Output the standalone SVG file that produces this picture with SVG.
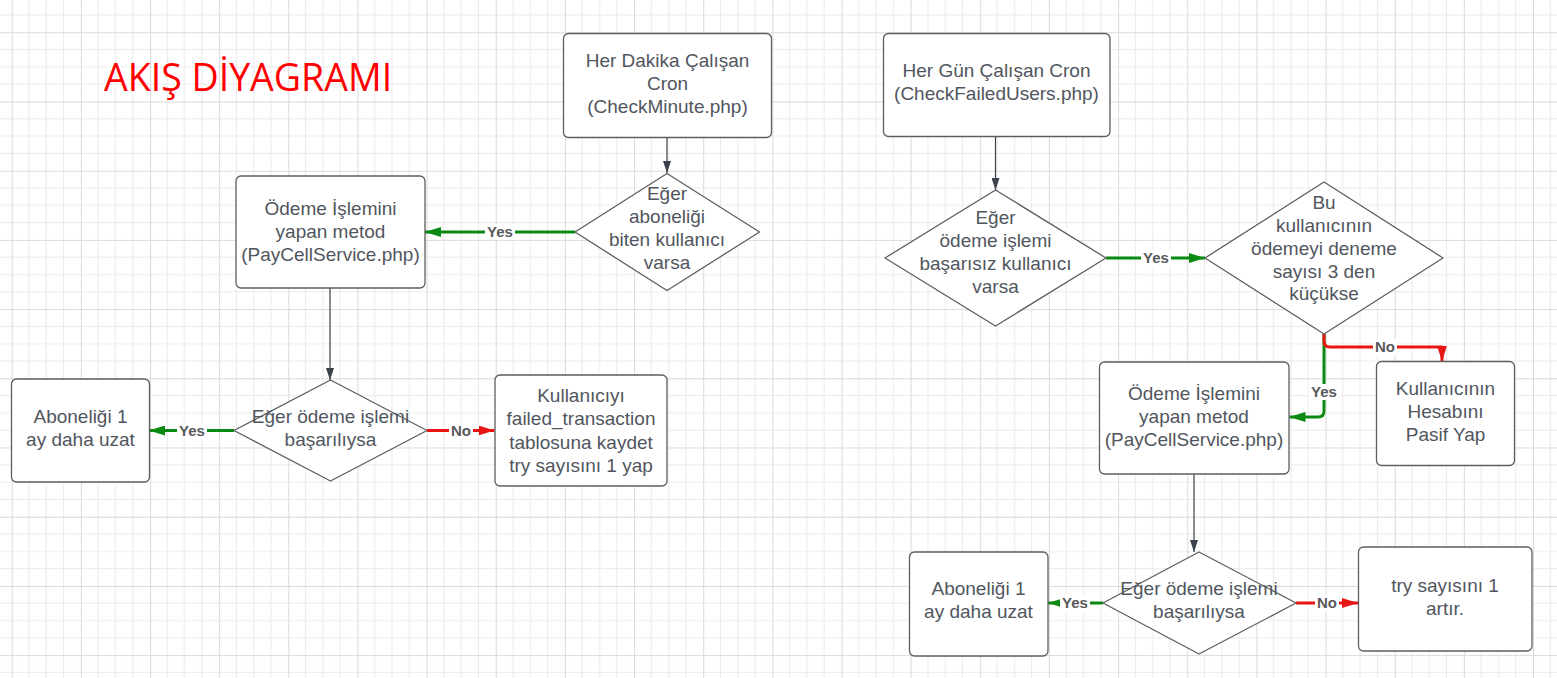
<svg xmlns="http://www.w3.org/2000/svg" width="1557" height="678" viewBox="0 0 1557 678">
<style>
.node{fill:#ffffff;stroke:#5e5e5e;stroke-width:1.3;stroke-linejoin:round}
.t{font-family:"Liberation Sans",Arial,sans-serif;font-size:19px;fill:#51565e;text-anchor:middle}
.lbl{font-family:"Liberation Sans",Arial,sans-serif;font-size:15px;font-weight:bold;fill:#595959;text-anchor:middle}
.lbg{fill:#ffffff}
.dk{fill:none;stroke:#3a414a;stroke-width:1.2}
.gr{fill:none;stroke:#0a8a12;stroke-width:3;stroke-linejoin:round}
.rd{fill:none;stroke:#e81515;stroke-width:3;stroke-linejoin:round}
.title{font-family:"Open Sans","Liberation Sans",sans-serif;font-size:37.5px;fill:#ff0000}
</style>
<defs>
<pattern id="grid" patternUnits="userSpaceOnUse" x="11.7" y="32.3" width="69.15" height="69.2">
<rect width="69.15" height="69.2" fill="#ffffff"/>
<path d="M17.29 0V69.2M34.58 0V69.2M51.86 0V69.2M0 17.3H69.15M0 34.6H69.15M0 51.9H69.15" stroke="#ebebeb" stroke-width="1" fill="none"/>
<path d="M0.5 0V69.2M0 0.5H69.15" stroke="#dadada" stroke-width="1" fill="none"/>
</pattern>
<marker id="aDk" viewBox="0 0 12 8" markerWidth="12" markerHeight="8" markerUnits="userSpaceOnUse" refX="12" refY="4" orient="auto"><path d="M0 0L12 4L0 8Z" fill="#3a414a"/></marker>
<marker id="aGr" viewBox="0 0 16 10" markerWidth="16" markerHeight="10" markerUnits="userSpaceOnUse" refX="16" refY="5" orient="auto"><path d="M0 0L16 5L0 10Z" fill="#0a8a12"/></marker>
<marker id="aRd" viewBox="0 0 16 10" markerWidth="16" markerHeight="10" markerUnits="userSpaceOnUse" refX="16" refY="5" orient="auto"><path d="M0 0L16 5L0 10Z" fill="#e81515"/></marker>
</defs>
<rect width="1557" height="678" fill="url(#grid)"/>
<text class="title" x="104" y="91">AKIŞ DİYAGRAMI</text>

<g id="connectors">
<path class="dk" d="M667 137V173" marker-end="url(#aDk)"/>
<path class="dk" d="M330 288V380" marker-end="url(#aDk)"/>
<path class="dk" d="M995.5 137V190" marker-end="url(#aDk)"/>
<path class="dk" d="M1194 474V552" marker-end="url(#aDk)"/>
<path class="gr" d="M575 232H425" marker-end="url(#aGr)"/>
<path class="gr" d="M234 430.5H149" marker-end="url(#aGr)"/>
<path class="rd" d="M427 430.5H494.5" marker-end="url(#aRd)"/>
<path class="gr" d="M1106 258H1205" marker-end="url(#aGr)"/>
<path class="gr" d="M1324 334V411Q1324 417 1318 417H1289.5" marker-end="url(#aGr)"/>
<path class="rd" d="M1324 334V341Q1324 347 1330 347H1442V361.5" marker-end="url(#aRd)"/>
<path class="gr" d="M1103 603H1048" marker-end="url(#aGr)"/>
<path class="rd" d="M1296 603H1358" marker-end="url(#aRd)"/>
<rect class="lbg" x="485" y="224" width="30" height="16"/><text class="lbl" x="500" y="237">Yes</text>
<rect class="lbg" x="177" y="423" width="30" height="16"/><text class="lbl" x="192" y="436">Yes</text>
<rect class="lbg" x="449" y="423" width="24" height="16"/><text class="lbl" x="461" y="436">No</text>
<rect class="lbg" x="1141" y="250" width="30" height="16"/><text class="lbl" x="1156" y="263">Yes</text>
<rect class="lbg" x="1373" y="339" width="24" height="16"/><text class="lbl" x="1385" y="352">No</text>
<rect class="lbg" x="1309" y="384" width="30" height="16"/><text class="lbl" x="1324" y="397">Yes</text>
<rect class="lbg" x="1060" y="595" width="30" height="16"/><text class="lbl" x="1075" y="608">Yes</text>
<rect class="lbg" x="1315" y="595" width="24" height="16"/><text class="lbl" x="1327" y="608">No</text>
</g>

<g id="cron-minute">
<rect class="node" x="563.5" y="33.5" width="208" height="104" rx="5"/>
<text class="t"><tspan x="667.5" y="67">Her Dakika Çalışan</tspan><tspan x="667.5" y="90">Cron</tspan><tspan x="667.5" y="113">(CheckMinute.php)</tspan></text>
</g>
<g id="dec-abonelik">
<path class="node" d="M667 173.5L759.5 232L667 290.5L575 232Z"/>
<text class="t"><tspan x="667" y="200">Eğer</tspan><tspan x="667" y="223">aboneliği</tspan><tspan x="667" y="246">biten kullanıcı</tspan><tspan x="667" y="269">varsa</tspan></text>
</g>
<g id="odeme-left">
<rect class="node" x="236" y="176" width="189" height="112" rx="5"/>
<text class="t"><tspan x="330.5" y="215">Ödeme İşlemini</tspan><tspan x="330.5" y="238">yapan metod</tspan><tspan x="330.5" y="261">(PayCellService.php)</tspan></text>
</g>
<g id="dec-basarili-left">
<path class="node" d="M330.5 380L427 430.5L330.5 481L234 430.5Z"/>
<text class="t"><tspan x="330.5" y="423">Eğer ödeme işlemi</tspan><tspan x="330.5" y="446">başarılıysa</tspan></text>
</g>
<g id="uzat-left">
<rect class="node" x="11.5" y="379" width="138" height="103" rx="5"/>
<text class="t"><tspan x="80.5" y="423">Aboneliği 1</tspan><tspan x="80.5" y="446">ay daha uzat</tspan></text>
</g>
<g id="failed-kaydet">
<rect class="node" x="495" y="375" width="172" height="111" rx="5"/>
<text class="t"><tspan x="581" y="402">Kullanıcıyı</tspan><tspan x="581" y="425">failed_transaction</tspan><tspan x="581" y="449">tablosuna kaydet</tspan><tspan x="581" y="472">try sayısını 1 yap</tspan></text>
</g>

<g id="cron-day">
<rect class="node" x="883.5" y="33.5" width="226.5" height="103" rx="5"/>
<text class="t"><tspan x="996.5" y="77">Her Gün Çalışan Cron</tspan><tspan x="996.5" y="100">(CheckFailedUsers.php)</tspan></text>
</g>
<g id="dec-basarisiz">
<path class="node" d="M995.5 190L1106 258L995.5 326L885 258Z"/>
<text class="t"><tspan x="995.5" y="224">Eğer</tspan><tspan x="995.5" y="247">ödeme işlemi</tspan><tspan x="995.5" y="270">başarısız kullanıcı</tspan><tspan x="995.5" y="293">varsa</tspan></text>
</g>
<g id="dec-deneme">
<path class="node" d="M1324 182L1443 258L1324 334L1205 258Z"/>
<text class="t"><tspan x="1324" y="209">Bu</tspan><tspan x="1324" y="232">kullanıcının</tspan><tspan x="1324" y="255">ödemeyi deneme</tspan><tspan x="1324" y="278">sayısı 3 den</tspan><tspan x="1324" y="300">küçükse</tspan></text>
</g>
<g id="odeme-right">
<rect class="node" x="1099.5" y="362" width="189.5" height="112" rx="5"/>
<text class="t"><tspan x="1194" y="400">Ödeme İşlemini</tspan><tspan x="1194" y="423">yapan metod</tspan><tspan x="1194" y="446">(PayCellService.php)</tspan></text>
</g>
<g id="pasif">
<rect class="node" x="1376.5" y="361.5" width="138" height="104" rx="5"/>
<text class="t"><tspan x="1445.5" y="395">Kullanıcının</tspan><tspan x="1445.5" y="418">Hesabını</tspan><tspan x="1445.5" y="441">Pasif Yap</tspan></text>
</g>
<g id="dec-basarili-right">
<path class="node" d="M1199 552L1296 603L1199 654L1103 603Z"/>
<text class="t"><tspan x="1199" y="595">Eğer ödeme işlemi</tspan><tspan x="1199" y="618">başarılıysa</tspan></text>
</g>
<g id="uzat-right">
<rect class="node" x="909.5" y="552" width="138.5" height="104" rx="5"/>
<text class="t"><tspan x="978.5" y="595">Aboneliği 1</tspan><tspan x="978.5" y="618">ay daha uzat</tspan></text>
</g>
<g id="try-artir">
<rect class="node" x="1358.5" y="547" width="173.5" height="104" rx="5"/>
<text class="t"><tspan x="1445" y="592">try sayısını 1</tspan><tspan x="1445" y="615">artır.</tspan></text>
</g>
</svg>
